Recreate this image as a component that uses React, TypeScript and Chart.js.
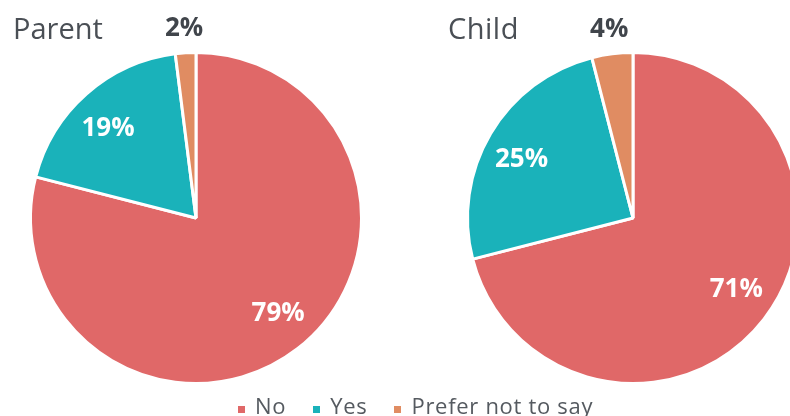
import React, { useEffect, useRef } from "react";
import { Chart, registerables } from "chart.js";

Chart.register(...registerables);

const categories = ["No", "Yes", "Prefer not to say"];
const parentValues = [79, 19, 2];
const childValues = [71, 25, 4];
const titles = ["Parent", "Child"];
const colors = ["#E06868", "#1AB2BA", "#E08C62"];

const FONT = "'Open Sans', sans-serif";

const labelPlugin = {
  id: "pctLabels",
  afterDatasetsDraw(chart: any) {
    const ctx = chart.ctx;
    const meta = chart.getDatasetMeta(0);
    const data = chart.data.datasets[0].data as number[];
    ctx.save();
    ctx.textAlign = "center";
    ctx.textBaseline = "middle";
    ctx.font = `700 26px ${FONT}`;
    meta.data.forEach((arc: any, i: number) => {
      const { x, y, startAngle, endAngle, outerRadius } = arc.getProps(
        ["x", "y", "startAngle", "endAngle", "outerRadius"],
        true
      );
      const v = data[i];
      const small = v < 5;
      const mid = (startAngle + endAngle) / 2 - (small ? 0 : 0.052);
      const r = small ? outerRadius + 24 : outerRadius * 0.76;
      ctx.fillStyle = small ? "#40454B" : "#FFFFFF";
      ctx.fillText(`${v}%`, x + Math.cos(mid) * r, y + Math.sin(mid) * r);
    });
    ctx.restore();
  },
};

function Pie({ values, left }: { values: number[]; left: number }) {
  const ref = useRef<HTMLCanvasElement>(null);
  useEffect(() => {
    if (!ref.current) return;
    const chart = new Chart(ref.current, {
      type: "pie",
      data: {
        labels: categories,
        datasets: [
          {
            data: values,
            backgroundColor: colors,
            borderColor: "#FFFFFF",
            borderWidth: 3,
          },
        ],
      },
      options: {
        animation: false,
        responsive: false,
        layout: { padding: 53 },
        plugins: { legend: { display: false }, tooltip: { enabled: false } },
      },
      plugins: [labelPlugin],
    });
    return () => chart.destroy();
  }, []);
  return (
    <canvas
      ref={ref}
      width={440}
      height={440}
      style={{ position: "absolute", left, top: -2, width: 440, height: 440 }}
    />
  );
}

export default function App() {
  return (
    <div
      style={{
        position: "fixed",
        left: 0,
        top: 0,
        width: 790,
        height: 416,
        overflow: "hidden",
        background: "#FFFFFF",
        fontFamily: FONT,
      }}
    >
      <Pie values={parentValues} left={196 - 220} />
      <Pie values={childValues} left={633 - 220} />
      <div
        style={{
          position: "absolute",
          left: 13,
          top: 8,
          fontSize: 29,
          color: "#4A4F55",
          lineHeight: "40px",
        }}
      >
        {titles[0]}
      </div>
      <div
        style={{
          position: "absolute",
          left: 448,
          top: 8,
          fontSize: 29,
          color: "#4A4F55",
          lineHeight: "40px",
          letterSpacing: 0.5,
        }}
      >
        {titles[1]}
      </div>
      <div
        style={{
          position: "absolute",
          left: 0,
          width: 790,
          top: 390,
          display: "flex",
          justifyContent: "flex-start",
          paddingLeft: 238,
          boxSizing: "border-box",
          fontSize: 22,
          color: "#555A60",
          lineHeight: "30px",
          letterSpacing: 0.7,
        }}
      >
        {categories.map((c, i) => (
          <div
            key={c}
            style={{ display: "flex", alignItems: "center", marginRight: 27 }}
          >
            <span
              style={{
                display: "inline-block",
                width: 7,
                height: 7,
                background: colors[i],
                marginRight: 10,
                marginTop: 8,
              }}
            />
            <span>{c}</span>
          </div>
        ))}
      </div>
    </div>
  );
}
